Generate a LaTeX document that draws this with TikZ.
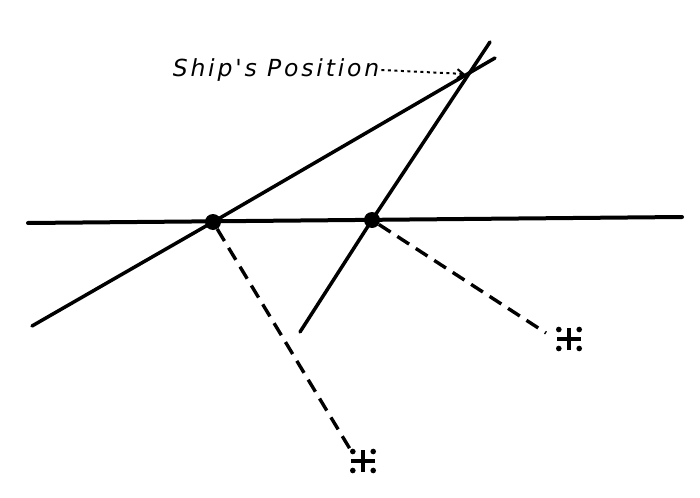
\documentclass[tikz,border=0pt]{standalone}
\usepackage{fontspec}
\newfontfamily\handfont[LetterSpace=12]{DejaVu Sans}
\usetikzlibrary{arrows.meta, calc, positioning}
\tikzset{
    bearing/.style={line width=3.5pt, line cap=round},
    sightline/.style={line width=3.4pt, dash pattern=on 14pt off 8pt},
    fixdot/.style={circle, fill=black, inner sep=0pt, minimum size=16pt},
    starmark/.style={
        circle, inner sep=0pt, minimum size=40pt,
        path picture={
            \coordinate (c) at (path picture bounding box.center);
            \draw[line width=3.2pt] ($(c)+(-12pt,0)$) -- ($(c)+(12pt,0)$);
            \draw[line width=3.2pt] ($(c)+(0,-11pt)$) -- ($(c)+(0,11pt)$);
            \foreach \dx/\dy in {-6/-5, 6/-5, -6/5, 6/5}
                \fill ($(c)+(\dx pt*1.7,\dy pt*1.9)$) circle (2.8pt);
        }
    },
    pointer/.style={line width=2pt, dash pattern=on 3pt off 3.5pt, -{Straight Barb[length=6pt, width=9pt]}}
}
\begin{document}
\begin{tikzpicture}[x=1pt, y=-1pt]
    \useasboundingbox (0,0) rectangle (700,497);
    % base line
    \coordinate (w) at (28,223);
    \coordinate (e) at (682,217);
    \draw[bearing, line width=4pt] (w) -- (e);
    % the two fixes on the base line
    \node[fixdot] (fixA) at (213,222) {};
    \node[fixdot] (fixB) at (372,220) {};
    % position lines
    \coordinate (a1) at (32,326);
    \coordinate (a2) at (495,58);
    \coordinate (b1) at (300,332);
    \coordinate (b2) at (490,42);
    \draw[bearing] (a1) -- (fixA.center) -- (a2);
    \draw[bearing] (b1) -- (fixB.center) -- (b2);
    \coordinate (ship) at (465,74);
    % stars
    \node[starmark] (starA) at (363,461) {};
    \node[starmark] (starB) at (569,339) {};
    \draw[sightline] (fixA) -- ($(starA.center)+(-13pt,12pt)$);
    \draw[sightline] (fixB) -- ($(starB.center)+(-23pt,6pt)$);
    % label
    \node[font=\handfont\itshape\fontsize{23.5}{26}\selectfont, inner sep=2pt] (label) at (276,70) {Ship's Position};
    \draw[pointer] (label.east) -- (ship);
\end{tikzpicture}
\end{document}
